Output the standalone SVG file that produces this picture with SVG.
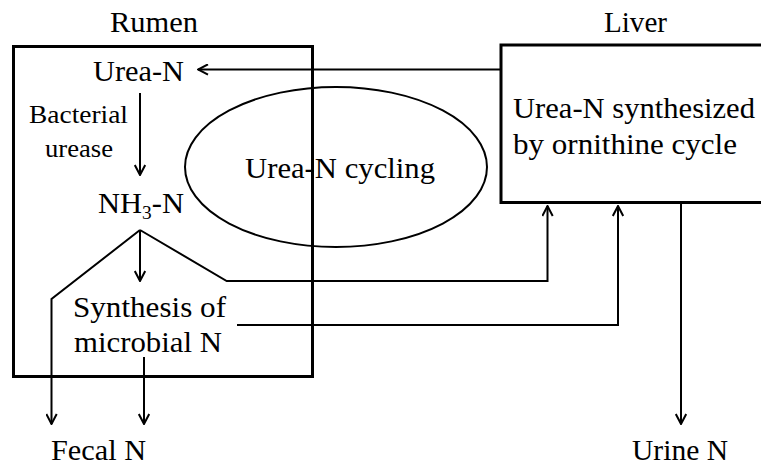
<svg xmlns="http://www.w3.org/2000/svg" width="761" height="465" viewBox="0 0 761 465">
<style>
text{font-family:'Liberation Serif','Times New Roman',serif;font-size:30px;fill:#000}
.sm{font-size:26px}
.box{fill:none;stroke:#000;stroke-width:3}
.ln{fill:none;stroke:#000;stroke-width:2}
.ar{marker-end:url(#arr)}
</style>
<defs>
<marker id="arr" viewBox="0 0 12 12" refX="11" refY="6" markerWidth="12" markerHeight="12" markerUnits="userSpaceOnUse" orient="auto">
<path d="M1,0.8 L11,6 L1,11.2" fill="none" stroke="#000" stroke-width="2"/>
</marker>
</defs>
<rect width="761" height="465" fill="#fff"/>
<g id="cycling">
<ellipse cx="336" cy="167" rx="151" ry="80" class="ln"/>
<text x="245" y="178" textLength="190" lengthAdjust="spacingAndGlyphs">Urea-N cycling</text>
</g>
<g id="rumen">
<rect x="13.5" y="46.5" width="299" height="330" class="box"/>
<text x="110" y="32" textLength="88" lengthAdjust="spacingAndGlyphs">Rumen</text>
</g>
<g id="liver">
<rect x="501" y="45" width="275" height="157.5" class="box"/>
<text x="604" y="32" textLength="63" lengthAdjust="spacingAndGlyphs">Liver</text>
<text x="513" y="118" textLength="242" lengthAdjust="spacingAndGlyphs">Urea-N synthesized</text>
<text x="513" y="154" textLength="224" lengthAdjust="spacingAndGlyphs">by ornithine cycle</text>
</g>
<g id="urea-n">
<text x="93" y="81" textLength="91" lengthAdjust="spacingAndGlyphs">Urea-N</text>
</g>
<g id="urease-label">
<text class="sm" x="29" y="123" textLength="99" lengthAdjust="spacingAndGlyphs">Bacterial</text>
<text class="sm" x="45" y="157" textLength="68" lengthAdjust="spacingAndGlyphs">urease</text>
</g>
<g id="nh3-n">
<text x="98" y="213" textLength="86" lengthAdjust="spacingAndGlyphs">NH<tspan font-size="19" dy="6">3</tspan><tspan dy="-6">-N</tspan></text>
</g>
<g id="microbial-n">
<text x="73" y="317" textLength="153" lengthAdjust="spacingAndGlyphs">Synthesis of</text>
<text x="74" y="352" textLength="148" lengthAdjust="spacingAndGlyphs">microbial N</text>
</g>
<g id="fecal-n">
<text x="51" y="460" textLength="95" lengthAdjust="spacingAndGlyphs">Fecal N</text>
</g>
<g id="urine-n">
<text x="632" y="460" textLength="96" lengthAdjust="spacingAndGlyphs">Urine N</text>
</g>
<g id="connectors">
<path class="ln ar" d="M500,69.5 L198,69.5"/>
<path class="ln ar" d="M140,93 L140,175"/>
<path class="ln ar" d="M140,230 L51.5,299 L51.5,424"/>
<path class="ln ar" d="M140,230 L140,281"/>
<path class="ln ar" d="M140,230 L226.7,281 L547.5,281 L547.5,206"/>
<path class="ln ar" d="M237,325 L618,325 L618,206"/>
<path class="ln ar" d="M144,357 L144,424"/>
<path class="ln ar" d="M681,203 L681,424"/>
</g>
</svg>
